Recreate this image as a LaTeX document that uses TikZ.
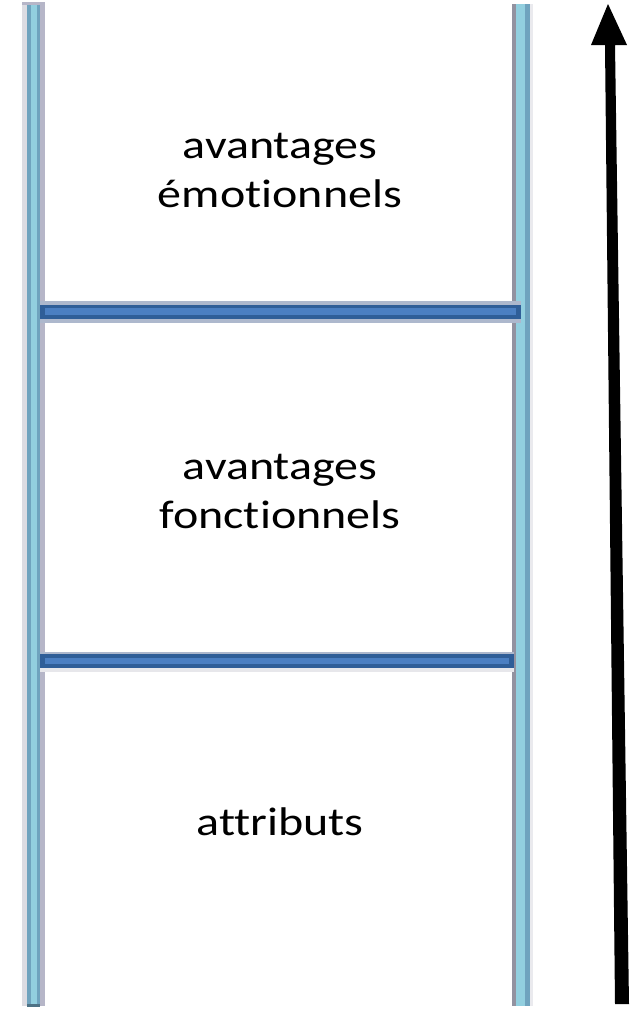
\documentclass[tikz,border=0pt]{standalone}
\usepackage{fontspec}
\setmainfont[Ligatures=NoCommon, FakeStretch=1.2]{Carlito}
\definecolor{railcore}{HTML}{92CFDF}
\definecolor{railedge}{HTML}{6FA3BE}
\definecolor{railshade}{HTML}{B6B6C8}
\definecolor{railhalo}{HTML}{DCDCE2}
\definecolor{rungdark}{HTML}{2F5E98}
\definecolor{rungmid}{HTML}{4B7FC2}
\definecolor{rungshade}{HTML}{8A99B8}
\tikzset{
  % base anchor sits on the last line's baseline
  label/.style={font=\fontsize{40}{49}\selectfont, align=center, inner sep=0pt, text=black, anchor=base},
}
\begin{document}
\begin{tikzpicture}[x=1pt, y=-1pt]
  \useasboundingbox[fill=white] (0,0) rectangle (629,1009);

  % left rail
  \fill[railhalo]  (22,4) rectangle (27,1006);
  \fill[railshade] (40,4) rectangle (45,1006);
  \fill[railedge]  (27,4) rectangle (40,1006);
  \fill[railcore]  (31,4) rectangle (37,1006);
  \fill[railshade] (22,2) rectangle (45,5);
  \fill[railedge!70!black] (27,1004) rectangle (40,1007);

  % right rail
  \fill[railshade!80!black] (512,4) rectangle (516,1006);
  \fill[railcore]  (516,4) rectangle (525,1006);
  \fill[railedge]  (525,4) rectangle (530,1006);
  \fill[railhalo!60!white] (530,4) rectangle (533,1006);

  % upper rung
  \fill[rungshade!70!white] (40,301) rectangle (521,323);
  \fill[rungdark] (40,305) rectangle (521,319);
  \fill[rungmid]  (45,308) rectangle (516,315);

  % lower rung
  \fill[rungshade!70!white] (40,652) rectangle (514,672);
  \fill[rungdark] (40,654) rectangle (514,668);
  \fill[rungmid]  (45,658) rectangle (509,664);
  \fill[railhalo!70!white] (40,668) rectangle (514,672);

  % upward arrow
  \fill[black] (608,4) -- (627,45) -- (615,45) -- (629,1004) -- (615,1004) -- (605,45) -- (591,45) -- cycle;

  % labels
  \node[label] (emo)  at (280,207) {avantages\\émotionnels};
  \node[label] (fonc) at (280,528) {avantages\\fonctionnels};
  \node[label] (attr) at (280,835) {attributs};
\end{tikzpicture}
\end{document}
